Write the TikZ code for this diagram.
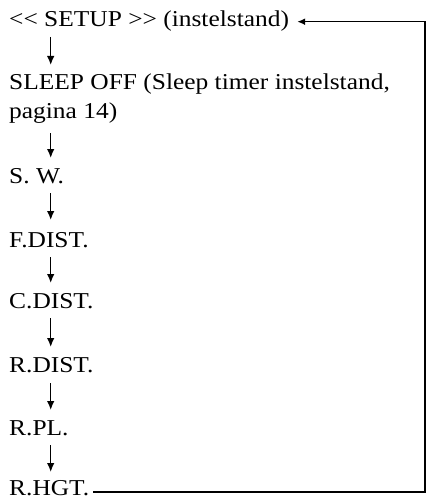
\documentclass[tikz,border=0pt]{standalone}
\usepackage{fontspec}
\setmainfont{Liberation Serif}[FakeStretch=1.12]
\usetikzlibrary{arrows.meta}
\begin{document}
\begin{tikzpicture}[x=1pt,y=-1pt,
  lbl/.style={anchor=base west,inner sep=0pt,font=\fontsize{22.7}{28}\selectfont},
  dn/.style={line width=1.3pt,-{Latex[length=9pt,width=7.5pt]}},
  ret/.style={line width=1.6pt,-{Latex[length=8pt,width=7pt]}}]
\useasboundingbox (0,0) rectangle (429,500);
\node[lbl] (setup) at (9,27) {<\kern0pt< SETUP >\kern0pt> (instelstand)};
\node[lbl] (sleepa) at (9,90) {SLEEP OFF (Sleep timer instelstand,};
\node[lbl] (sleepb) at (9,118) {pagina 14)};
\node[lbl] (sw) at (9,183) {S. W.};
\node[lbl] (fdist) at (9,247) {F.DIST.};
\node[lbl] (cdist) at (9,308) {C.DIST.};
\node[lbl] (rdist) at (9,372) {R.DIST.};
\node[lbl] (rpl) at (9,435) {R.PL.};
\node[lbl] (rhgt) at (9,495) {R.HGT.};
% down arrows
\draw[dn] ([xshift=41.7pt,yshift=-10pt]setup.base west) -- ([xshift=41.7pt,yshift=25pt]sleepa.base west);
\draw[dn] ([xshift=41.7pt,yshift=-15pt]sleepb.base west) -- ([xshift=41.7pt,yshift=25pt]sw.base west);
\draw[dn] ([xshift=41.7pt,yshift=-10pt]sw.base west) -- ([xshift=41.7pt,yshift=27pt]fdist.base west);
\draw[dn] ([xshift=41.7pt,yshift=-10pt]fdist.base west) -- ([xshift=41.7pt,yshift=25pt]cdist.base west);
\draw[dn] ([xshift=41.7pt,yshift=-10pt]cdist.base west) -- ([xshift=41.7pt,yshift=25pt]rdist.base west);
\draw[dn] ([xshift=41.7pt,yshift=-11pt]rdist.base west) -- ([xshift=41.7pt,yshift=25pt]rpl.base west);
\draw[dn] ([xshift=41.7pt,yshift=-10pt]rpl.base west) -- ([xshift=41.7pt,yshift=23pt]rhgt.base west);
% return loop
\coordinate (hgtend) at ([xshift=4pt,yshift=3pt]rhgt.base east);
\coordinate (setupend) at ([xshift=8pt,yshift=5.3pt]setup.base east);
\coordinate (retc) at (425,250);
\draw[ret] (hgtend) -| (retc) |- (setupend);
\end{tikzpicture}
\end{document}
